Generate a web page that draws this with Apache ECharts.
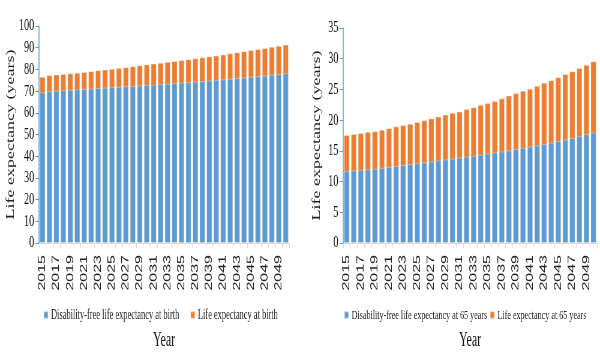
<!DOCTYPE html>
<html>
<head>
<meta charset="utf-8">
<script src="https://cdn.jsdelivr.net/npm/echarts@6/dist/echarts.min.js"></script>
<style>
html,body{margin:0;padding:0;background:#fff;overflow:hidden;}
#wrap{width:600px;height:357px;overflow:hidden;}
#c{width:1000px;height:357px;transform:scaleX(0.6);transform-origin:0 0;}
</style>
</head>
<body>
<div id="wrap"><div id="c"></div></div>
<script>
const years = [];
for (let y = 2015; y <= 2050; y++) years.push(String(y));

const lifeBirth = [76.6,77.4,77.7,77.9,78.2,78.5,78.8,79.2,79.6,80.0,80.3,80.7,81.0,81.5,81.9,82.3,82.7,83.1,83.5,83.9,84.3,84.7,85.1,85.6,86.0,86.4,86.9,87.4,87.9,88.4,88.9,89.4,89.9,90.4,90.9,91.5];
const dfBirth = [69.4,70.0,70.2,70.4,70.6,70.8,71.0,71.2,71.4,71.6,71.8,72.0,72.2,72.4,72.6,72.8,73.0,73.2,73.4,73.6,73.9,74.1,74.4,74.6,74.9,75.2,75.4,75.7,76.0,76.3,76.6,76.9,77.2,77.5,77.8,78.2];
const life65 = [17.6,17.75,17.9,18.1,18.2,18.45,18.7,19.0,19.2,19.4,19.7,20.0,20.3,20.6,20.9,21.2,21.4,21.8,22.1,22.5,22.8,23.1,23.55,24.0,24.4,24.8,25.1,25.6,26.1,26.5,27.0,27.5,27.95,28.5,29.0,29.6];
const df65 = [11.7,11.8,11.9,12.0,12.1,12.25,12.4,12.55,12.7,12.85,13.0,13.15,13.3,13.45,13.6,13.75,13.9,14.05,14.2,14.4,14.6,14.75,14.9,15.1,15.3,15.5,15.7,15.9,16.1,16.35,16.6,16.85,17.1,17.4,17.7,18.0];

const nameDFB = 'Disability-free life expectancy at birth';
const nameLB = 'Life expectancy at birth';
const nameDF65 = 'Disability-free life expectancy at 65 years';
const nameL65 = 'Life expectancy at 65 years';

const BLUE = '#5b9bd5', ORANGE = '#ed7d31';
const serif = 'Liberation Serif';

function xAx(gi){
  return {
    type:'category', gridIndex:gi, data:years,
    axisLine:{lineStyle:{color:'#d9d9d9'}},
    axisTick:{show:true, alignWithLabel:false, interval:0, length:5, lineStyle:{color:'#d9d9d9'}},
    axisLabel:{rotate:90, interval:1, margin:12, color:'#222', fontFamily:'Liberation Sans', fontSize:16},
    name:'Year', nameLocation:'middle', nameGap:88,
    nameTextStyle:{fontFamily:serif, fontSize:20, color:'#111'}
  };
}
function yAx(gi, max, iv){
  return {
    type:'value', gridIndex:gi, min:0, max:max, interval:iv,
    axisLine:{show:true, lineStyle:{color:BLUE, width:1.5}},
    axisTick:{show:true, length:6, lineStyle:{color:BLUE}},
    splitLine:{show:false},
    axisLabel:{margin:8, color:'#111', fontFamily:serif, fontSize:17},
    name:'Life expectancy (years)', nameLocation:'middle', nameGap:35,
    nameTextStyle:{fontFamily:serif, fontSize:18, color:'#222'}
  };
}
function bar(name, data, gi, color){
  return {
    name:name, type:'bar', xAxisIndex:gi, yAxisIndex:gi, data:data,
    barGap:'-100%', barCategoryGap:'20%',
    itemStyle:{color:color, borderColor:'rgba(255,255,255,0.35)', borderWidth:1},
    animation:false
  };
}

const chart = echarts.init(document.getElementById('c'), null, {renderer:'canvas'});
chart.setOption({
  animation:false,
  grid:[
    {left:65, right:518, top:26, bottom:114},
    {left:572, right:5, top:28, bottom:114}
  ],
  xAxis:[xAx(0), xAx(1)],
  yAxis:[yAx(0,100,10), yAx(1,35,5)],
  legend:[
    {data:[nameDFB,nameLB], left:67, top:303, itemWidth:7, itemHeight:7, itemGap:18,
     icon:'rect', textStyle:{fontFamily:serif, fontSize:14, color:'#222'}},
    {data:[nameDF65,nameL65], left:568, top:303, itemWidth:7, itemHeight:7, itemGap:4,
     icon:'rect', textStyle:{fontFamily:serif, fontSize:13.5, color:'#222'}}
  ],
  series:[
    bar(nameLB, lifeBirth, 0, ORANGE),
    bar(nameDFB, dfBirth, 0, BLUE),
    bar(nameL65, life65, 1, ORANGE),
    bar(nameDF65, df65, 1, BLUE)
  ]
});
</script>
</body>
</html>
